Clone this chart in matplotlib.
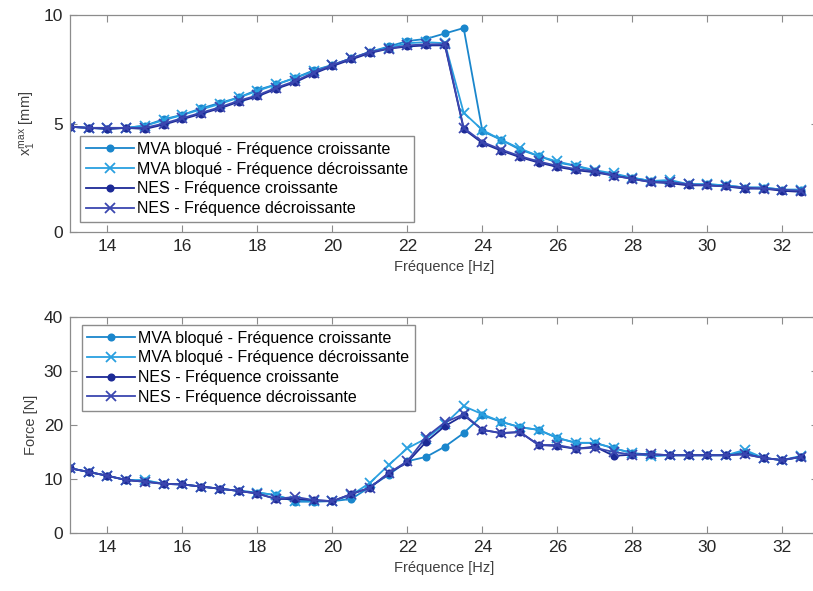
import matplotlib
matplotlib.use("Agg")
import matplotlib.pyplot as plt

plt.rcParams["font.family"] = ["Liberation Sans", "DejaVu Sans"]
plt.rcParams["mathtext.fontset"] = "custom"
plt.rcParams["mathtext.rm"] = "Liberation Sans"
plt.rcParams["mathtext.it"] = "Liberation Sans"

# Frequencies [Hz]
freq = [13, 13.5, 14, 14.5, 15, 15.5, 16, 16.5, 17, 17.5,
        18, 18.5, 19, 19.5, 20, 20.5, 21, 21.5, 22, 22.5,
        23, 23.5, 24, 24.5, 25, 25.5, 26, 26.5, 27, 27.5,
        28, 28.5, 29, 29.5, 30, 30.5, 31, 31.5, 32, 32.5]

# Displacement x1 max [mm]
x_mva_up = [4.85, 4.8, 4.75, 4.8, 4.9, 5.2, 5.4, 5.7, 5.95, 6.2,
            6.55, 6.8, 7.1, 7.45, 7.7, 8.0, 8.3, 8.55, 8.8, 8.9,
            9.15, 9.4, 4.65, 4.25, 3.8, 3.5, 3.2, 3.05, 2.8, 2.65,
            2.5, 2.35, 2.3, 2.2, 2.2, 2.15, 2.05, 2.05, 1.95, 1.95]
x_mva_down = [4.85, 4.8, 4.8, 4.8, 4.9, 5.15, 5.4, 5.65, 5.9, 6.2,
              6.5, 6.8, 7.1, 7.4, 7.7, 8.0, 8.3, 8.5, 8.7, 8.75,
              8.7, 5.5, 4.7, 4.25, 3.85, 3.5, 3.25, 3.05, 2.85, 2.7,
              2.5, 2.35, 2.4, 2.2, 2.2, 2.15, 2.05, 2.05, 1.95, 1.95]
x_nes_up = [4.85, 4.8, 4.75, 4.8, 4.75, 4.95, 5.2, 5.45, 5.7, 6.0,
            6.25, 6.6, 6.9, 7.3, 7.65, 7.95, 8.25, 8.45, 8.55, 8.6,
            8.6, 4.75, 4.1, 3.75, 3.45, 3.2, 3.0, 2.85, 2.75, 2.6,
            2.45, 2.3, 2.25, 2.15, 2.15, 2.1, 2.0, 2.0, 1.9, 1.85]
x_nes_down = [4.85, 4.8, 4.8, 4.8, 4.8, 5.0, 5.25, 5.5, 5.75, 6.05,
              6.3, 6.65, 6.95, 7.35, 7.7, 8.0, 8.3, 8.45, 8.6, 8.65,
              8.65, 4.8, 4.15, 3.8, 3.5, 3.25, 3.05, 2.9, 2.8, 2.6,
              2.45, 2.3, 2.3, 2.2, 2.15, 2.1, 2.05, 2.0, 1.95, 1.9]

# Force [N]
f_mva_up = [12.0, 11.3, 10.6, 9.8, 9.7, 9.1, 9.0, 8.6, 8.2, 7.8,
            7.5, 7.0, 5.8, 5.8, 5.9, 6.3, 8.5, 10.8, 13.3, 14.1,
            16.0, 18.5, 21.8, 20.6, 19.6, 19.1, 17.6, 16.7, 16.7, 15.7,
            14.8, 14.5, 14.4, 14.4, 14.4, 14.4, 15.0, 13.9, 13.5, 14.1]
f_mva_down = [12.0, 11.3, 10.6, 9.8, 9.8, 9.1, 9.0, 8.6, 8.2, 7.8,
              7.5, 7.0, 6.0, 6.0, 5.9, 7.0, 9.3, 12.6, 15.7, 17.5,
              20.2, 23.5, 22.0, 20.6, 19.6, 19.1, 17.6, 16.7, 16.7, 15.7,
              14.8, 14.2, 14.4, 14.4, 14.4, 14.4, 15.4, 13.9, 13.5, 14.3]
f_nes_up = [12.0, 11.3, 10.6, 9.8, 9.5, 9.1, 9.0, 8.6, 8.2, 7.8,
            7.3, 6.3, 6.3, 6.1, 5.9, 7.2, 8.4, 11.1, 13.1, 16.9,
            19.8, 21.8, 19.1, 18.5, 18.7, 16.3, 16.1, 15.6, 16.0, 14.3,
            14.5, 14.6, 14.4, 14.4, 14.4, 14.4, 14.6, 13.9, 13.5, 14.1]
f_nes_down = [12.0, 11.3, 10.6, 9.8, 9.5, 9.1, 9.0, 8.6, 8.2, 7.8,
              7.3, 6.3, 6.7, 6.1, 5.9, 7.2, 8.4, 11.1, 13.3, 17.8,
              20.5, 22.0, 19.1, 18.5, 18.7, 16.3, 16.3, 15.6, 15.8, 15.0,
              14.5, 14.6, 14.4, 14.4, 14.4, 14.4, 14.6, 13.9, 13.5, 14.1]

labels = ["MVA bloqué - Fréquence croissante",
          "MVA bloqué - Fréquence décroissante",
          "NES - Fréquence croissante",
          "NES - Fréquence décroissante"]
colors = ["#1a86cc", "#2aa0e0", "#1c2a96", "#3b47b0"]
markers = [".", "x", ".", "x"]

fig = plt.figure(figsize=(8.13, 5.91), dpi=100)
# axes run slightly past the right edge (cropped like the original)
ax1 = fig.add_axes([0.0861, 0.6074, 0.92, 0.3672])
ax2 = fig.add_axes([0.0861, 0.0981, 0.92, 0.3655])


def style(ax):
    for s in ax.spines.values():
        s.set_color("#8c8c8c")
        s.set_linewidth(0.9)
    ax.tick_params(direction="in", top=True, right=True, colors="#8c8c8c",
                   labelcolor="#262626", labelsize=12.5, length=5, pad=5)
    ax.set_xlim(13, 32.95)
    ax.set_xticks([14, 16, 18, 20, 22, 24, 26, 28, 30, 32])
    ax.set_xlabel("Fréquence [Hz]", fontsize=10.5, color="#404040", labelpad=4)


for y, c, m, lab in zip([x_mva_up, x_mva_down, x_nes_up, x_nes_down], colors, markers, labels):
    ax1.plot(freq, y, color=c, marker=m, markersize=9 if m == "." else 7,
             lw=1.3, mew=1.3, label=lab)
style(ax1)
ax1.set_ylim(0, 10)
ax1.set_yticks([0, 5, 10])
ax1.set_ylabel("$x_1^{max}$ [mm]", fontsize=10.5, color="#404040")
ax1.legend(loc="lower left", bbox_to_anchor=(0.003, 0.01), fontsize=11.5,
           frameon=True, fancybox=False, edgecolor="#8c8c8c", framealpha=1,
           handlelength=3.0, borderpad=0.35, labelspacing=0.3, handletextpad=0.2)

for y, c, m, lab in zip([f_mva_up, f_mva_down, f_nes_up, f_nes_down], colors, markers, labels):
    ax2.plot(freq, y, color=c, marker=m, markersize=9 if m == "." else 7,
             lw=1.3, mew=1.3, label=lab)
style(ax2)
ax2.set_ylim(0, 40)
ax2.set_yticks([0, 10, 20, 30, 40])
ax2.set_ylabel("Force [N]", fontsize=10.5, color="#404040")
ax2.legend(loc="upper left", bbox_to_anchor=(0.005, 1.0), fontsize=11.5,
           frameon=True, fancybox=False, edgecolor="#8c8c8c", framealpha=1,
           handlelength=3.0, borderpad=0.35, labelspacing=0.3, handletextpad=0.2)

fig.savefig("out.png", dpi=100)
